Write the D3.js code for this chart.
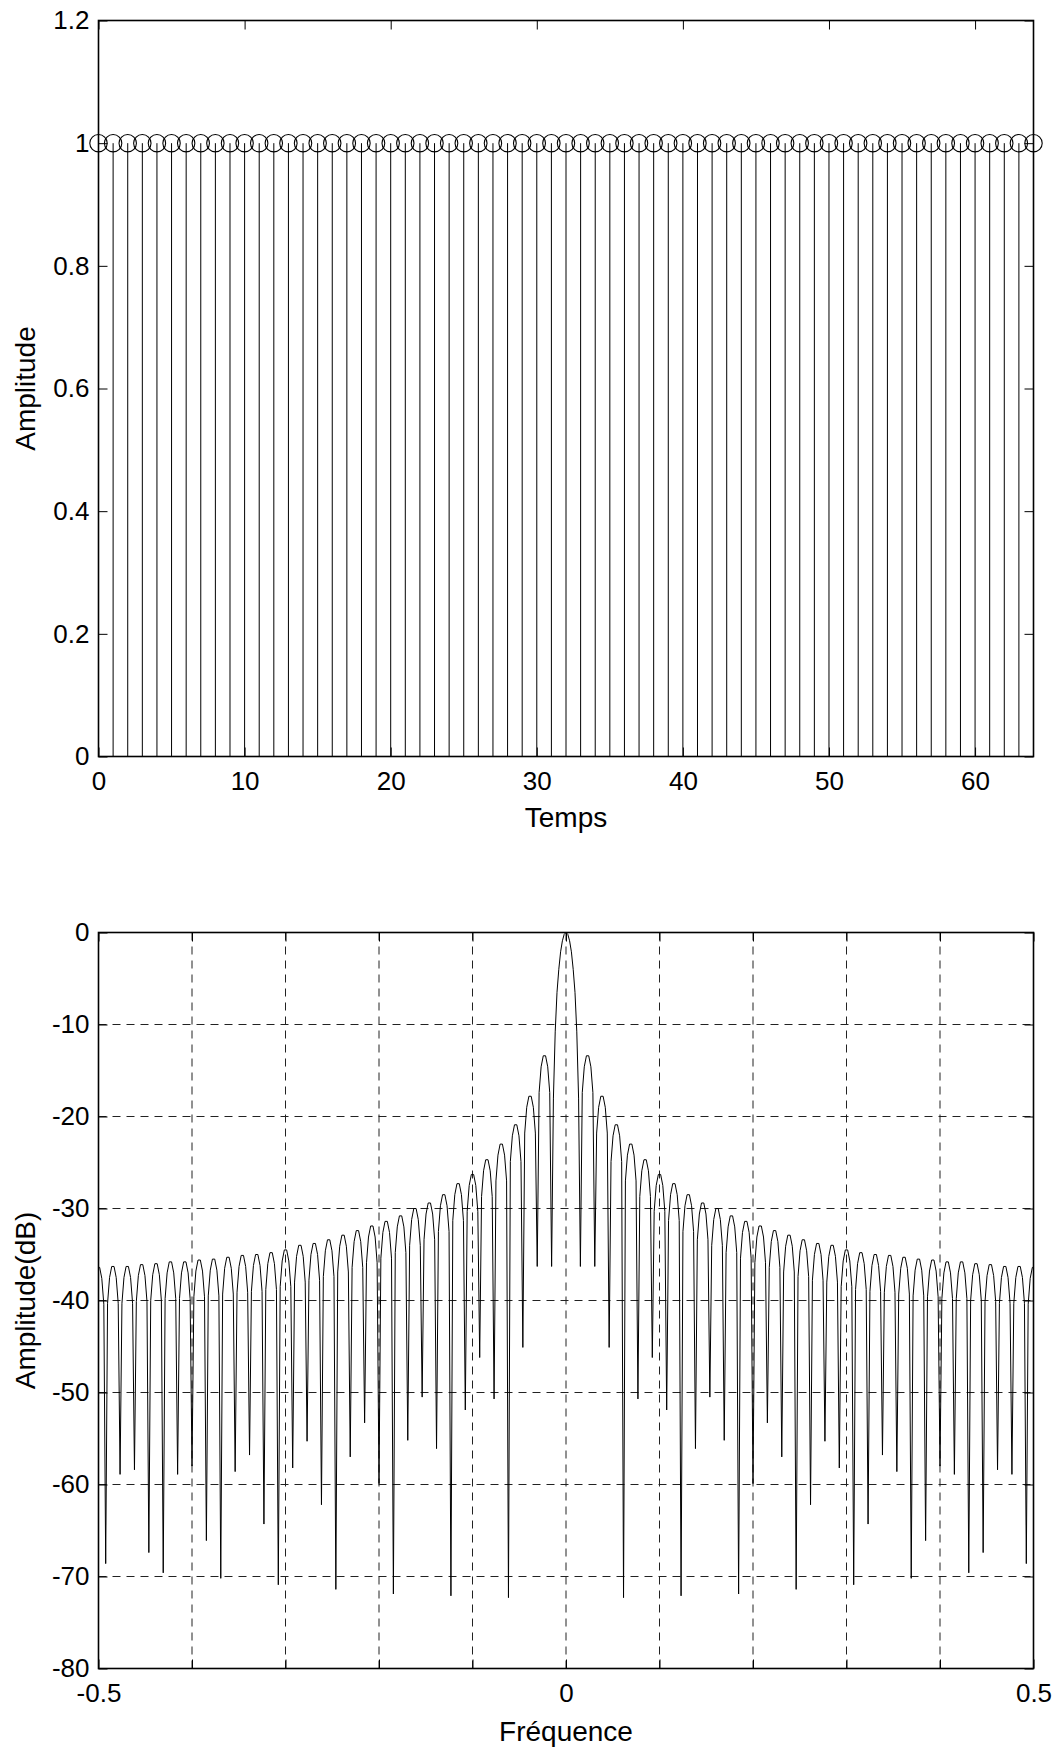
<!DOCTYPE html>
<html>
<head>
<meta charset="utf-8">
<script src="https://cdn.jsdelivr.net/npm/d3@7"></script>
<style>
  body { margin: 0; background: #fff; }
  svg { display: block; font-family: "Liberation Sans", Arial, sans-serif; }
  .tick text { font-size: 26px; fill: #000; }
  .tick line { stroke: #000; }
  .grid line { stroke: #222; stroke-dasharray: 8,6; }
</style>
</head>
<body>
<script>
var width = 1058, height = 1749;

// ---- top plot data: 65 samples of a rectangular window ----
var timeIdx = d3.range(0, 65);
var amp = [1,1,1,1,1,1,1,1,1,1,1,1,1,1,1,1,1,1,1,1,1,1,1,1,1,1,1,1,1,1,1,1,
           1,1,1,1,1,1,1,1,1,1,1,1,1,1,1,1,1,1,1,1,1,1,1,1,1,1,1,1,1,1,1,1,1];
var timeTicks = [0, 10, 20, 30, 40, 50, 60];
var ampTicks = [0, 0.2, 0.4, 0.6, 0.8, 1, 1.2];

// ---- bottom plot data: spectrum in dB ----
var winLen = 65;                       // nulls fall on k / winLen
var nullK = d3.range(-32, 33).filter(function(k) { return k !== 0; });
// depth of each null (k = -32 .. -1, 1 .. 32)
var nullDb = [-68.6,-58.9,-58.4,-67.4,-69.6,-58.9,-58.0,-66.1,-70.2,-58.6,-56.8,
              -64.3,-70.9,-58.2,-55.3,-62.2,-71.4,-57.0,-53.3,-59.9,-71.9,-55.2,
              -50.5,-56.1,-72.1,-51.9,-46.2,-50.7,-72.3,-45.1,-36.3,-36.3,
              -36.3,-36.3,-45.1,-72.3,-50.7,-46.2,-51.9,-72.1,-56.1,-50.5,
              -55.2,-71.9,-59.9,-53.3,-57.0,-71.4,-62.2,-55.3,-58.2,-70.9,-64.3,
              -56.8,-58.6,-70.2,-66.1,-58.0,-58.9,-69.6,-67.4,-58.4,-58.9,-68.6];
// top of each lobe, left to right (edge, 31 side lobes, main lobe, 31 side lobes, edge)
var lobePeakDb = [-36.4,
  -36.3,-36.3,-36.1,-36.0,-35.8,-35.8,-35.6,-35.5,-35.3,-35.1,
  -35.0,-34.8,-34.5,-34.0,-33.8,-33.4,-32.9,-32.4,-31.9,-31.4,-30.8,
  -30.0,-29.4,-28.5,-27.3,-26.3,-24.7,-23.0,-20.9,-17.8,-13.4,
  0,
  -13.4,-17.8,-20.9,-23.0,-24.7,-26.3,-27.3,-28.5,-29.4,-30.0,
  -30.8,-31.4,-31.9,-32.4,-32.9,-33.4,-33.8,-34.0,-34.5,-34.8,-35.0,
  -35.1,-35.3,-35.5,-35.6,-35.8,-35.8,-36.0,-36.1,-36.3,-36.3,
  -36.4];
// shape of a side lobe: position across the lobe and drop below its top (dB)
var lobeFrac = [0.13, 0.27, 0.42, 0.58, 0.73, 0.87];
var lobeDrop = [-4.0, -1.2, 0, 0, -1.2, -4.0];
// main lobe: offset in units of 1/winLen and level (dB)
var mainOff = [-0.875, -0.75, -0.625, -0.5, -0.375, -0.25, -0.125, 0,
               0.125, 0.25, 0.375, 0.5, 0.625, 0.75, 0.875];
var mainDb = [-18, -10.8, -6.5, -4.0, -2.1, -0.9, -0.2, 0,
              -0.2, -0.9, -2.1, -4.0, -6.5, -10.8, -18];
var freqTicks = [-0.5, -0.4, -0.3, -0.2, -0.1, 0, 0.1, 0.2, 0.3, 0.4, 0.5];
var freqLabels = ["-0.5", "", "", "", "", "0", "", "", "", "", "0.5"];
var dbTicks = [-80, -70, -60, -50, -40, -30, -20, -10, 0];

var svg = d3.select("body").append("svg")
    .attr("width", width)
    .attr("height", height);

var left = 98.5, right = 1033.5;
var labelSize = 28;

// ================= top plot =================
var x1 = d3.scaleLinear().domain([0, 64]).range([left, right]);
var y1 = d3.scaleLinear().domain([0, 1.2]).range([756.5, 20.5]);
var g1 = svg.append("g");

g1.selectAll("line.stem")
    .data(timeIdx)
  .enter().append("line")
    .attr("class", "stem")
    .attr("x1", function(d) { return x1(d); })
    .attr("x2", function(d) { return x1(d); })
    .attr("y1", y1(0))
    .attr("y2", function(d, i) { return y1(amp[i]); })
    .attr("stroke", "#000")
    .attr("stroke-width", 1);

g1.selectAll("circle.mark")
    .data(timeIdx)
  .enter().append("circle")
    .attr("class", "mark")
    .attr("cx", function(d) { return x1(d); })
    .attr("cy", function(d, i) { return y1(amp[i]); })
    .attr("r", 8.7)
    .attr("fill", "none")
    .attr("stroke", "#000")
    .attr("stroke-width", 1.1);

var fmt = function(d) { return String(+d.toFixed(1)); };

g1.append("g").attr("transform", "translate(0," + y1(0) + ")")
    .call(d3.axisBottom(x1).tickValues(timeTicks).tickSize(-9).tickPadding(15).tickFormat(fmt));
g1.append("g").attr("transform", "translate(0," + y1(1.2) + ")")
    .call(d3.axisTop(x1).tickValues(timeTicks).tickSize(-9).tickFormat(""));
g1.append("g").attr("transform", "translate(" + left + ",0)")
    .call(d3.axisLeft(y1).tickValues(ampTicks).tickSize(-9).tickPadding(9).tickFormat(fmt));
g1.append("g").attr("transform", "translate(" + right + ",0)")
    .call(d3.axisRight(y1).tickValues(ampTicks).tickSize(-9).tickFormat(""));

g1.append("rect")
    .attr("x", left).attr("y", y1(1.2))
    .attr("width", right - left).attr("height", y1(0) - y1(1.2))
    .attr("fill", "none").attr("stroke", "#000").attr("stroke-width", 1.6);

g1.append("text")
    .attr("x", x1(32)).attr("y", 827)
    .attr("text-anchor", "middle").attr("font-size", labelSize)
    .text("Temps");
g1.append("text")
    .attr("transform", "translate(35," + ((y1(0) + y1(1.2)) / 2) + ") rotate(-90)")
    .attr("text-anchor", "middle").attr("font-size", labelSize)
    .text("Amplitude");

// ================= bottom plot =================
var x2 = d3.scaleLinear().domain([-0.5, 0.5]).range([left, right]);
var y2 = d3.scaleLinear().domain([-80, 0]).range([1668.5, 932.5]);
var g2 = svg.append("g");

svg.append("clipPath").attr("id", "clip2")
  .append("rect")
    .attr("x", left).attr("y", y2(0) - 2)
    .attr("width", right - left).attr("height", y2(-80) - y2(0) + 2);

// grid
g2.append("g").attr("class", "grid")
  .selectAll("line")
    .data(freqTicks.slice(1, -1))
  .enter().append("line")
    .attr("x1", function(d) { return x2(d); })
    .attr("x2", function(d) { return x2(d); })
    .attr("y1", y2(0)).attr("y2", y2(-80));
g2.append("g").attr("class", "grid")
  .selectAll("line")
    .data(dbTicks.slice(1, -1))
  .enter().append("line")
    .attr("y1", function(d) { return y2(d); })
    .attr("y2", function(d) { return y2(d); })
    .attr("x1", left).attr("x2", right);

// build the spectrum polyline from lobe tops and null depths
var lobes = [];
lobes.push({a: -33 / winLen, b: -32 / winLen});
for (var k = -32; k <= -2; k++) lobes.push({a: k / winLen, b: (k + 1) / winLen});
lobes.push({a: -1 / winLen, b: 1 / winLen, main: true});
for (var k = 1; k <= 31; k++) lobes.push({a: k / winLen, b: (k + 1) / winLen});
lobes.push({a: 32 / winLen, b: 33 / winLen});

var pts = [];
lobes.forEach(function(lb, i) {
  if (lb.main) {
    mainOff.forEach(function(o, j) { pts.push([o / winLen, mainDb[j]]); });
  } else {
    lobeFrac.forEach(function(fr, j) {
      pts.push([lb.a + fr * (lb.b - lb.a), lobePeakDb[i] + lobeDrop[j]]);
    });
  }
  if (i < nullK.length) pts.push([nullK[i] / winLen, nullDb[i]]);
});

var line = d3.line()
    .x(function(d) { return x2(d[0]); })
    .y(function(d) { return y2(d[1]); });

g2.append("path")
    .datum(pts)
    .attr("clip-path", "url(#clip2)")
    .attr("d", line)
    .attr("fill", "none")
    .attr("stroke", "#000")
    .attr("stroke-width", 1)
    .attr("stroke-linejoin", "round");

g2.append("g").attr("transform", "translate(0," + y2(-80) + ")")
    .call(d3.axisBottom(x2).tickValues(freqTicks).tickSize(-9).tickPadding(15)
      .tickFormat(function(d, i) { return freqLabels[i]; }));
g2.append("g").attr("transform", "translate(0," + y2(0) + ")")
    .call(d3.axisTop(x2).tickValues(freqTicks).tickSize(-9).tickFormat(""));
g2.append("g").attr("transform", "translate(" + left + ",0)")
    .call(d3.axisLeft(y2).tickValues(dbTicks).tickSize(-9).tickPadding(9)
      .tickFormat(function(d) { return String(d); }));
g2.append("g").attr("transform", "translate(" + right + ",0)")
    .call(d3.axisRight(y2).tickValues(dbTicks).tickSize(-9).tickFormat(""));

g2.append("rect")
    .attr("x", left).attr("y", y2(0))
    .attr("width", right - left).attr("height", y2(-80) - y2(0))
    .attr("fill", "none").attr("stroke", "#000").attr("stroke-width", 1.6);

g2.append("text")
    .attr("x", x2(0)).attr("y", 1741)
    .attr("text-anchor", "middle").attr("font-size", labelSize)
    .text("Fréquence");
g2.append("text")
    .attr("transform", "translate(35," + ((y2(0) + y2(-80)) / 2) + ") rotate(-90)")
    .attr("text-anchor", "middle").attr("font-size", labelSize)
    .text("Amplitude(dB)");

svg.selectAll(".domain").remove();
</script>
</body>
</html>
